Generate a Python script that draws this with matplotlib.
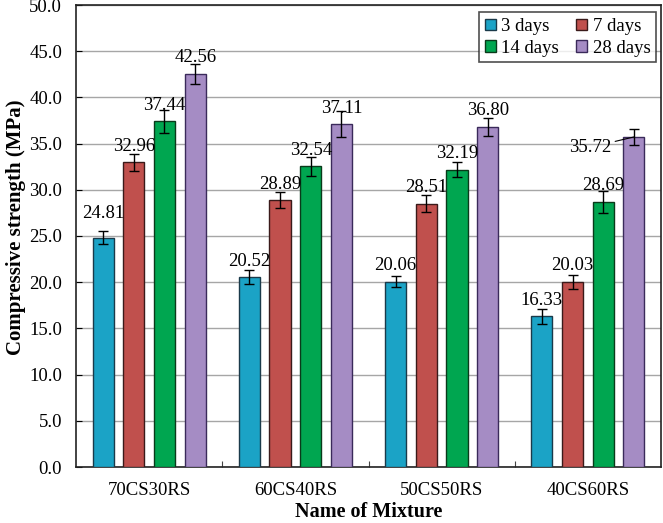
import matplotlib
matplotlib.use("Agg")
import matplotlib.pyplot as plt
import numpy as np
from matplotlib.ticker import FixedLocator, FormatStrFormatter

plt.rcParams['font.family'] = ['Liberation Serif', 'DejaVu Serif']

categories = ["70CS30RS", "60CS40RS", "50CS50RS", "40CS60RS"]
series_names = ["3 days", "7 days", "14 days", "28 days"]
values = {
    "3 days": [24.81, 20.52, 20.06, 16.33],
    "7 days": [32.96, 28.89, 28.51, 20.03],
    "14 days": [37.44, 32.54, 32.19, 28.69],
    "28 days": [42.56, 37.11, 36.80, 35.72],
}
errors = {
    "3 days": [0.7, 0.75, 0.6, 0.8],
    "7 days": [0.9, 0.9, 0.9, 0.75],
    "14 days": [1.25, 1.05, 0.8, 1.2],
    "28 days": [1.1, 1.4, 0.95, 0.85],
}
colors = ["#1ba3c6", "#c0504d", "#00a650", "#a58cc4"]
edges = ["#1a3a4a", "#3a1a1a", "#0a3a1a", "#3a2a5a"]

fig = plt.figure(figsize=(6.63, 5.23), dpi=100)
ax = fig.add_axes([76/663, 56/523, 585/663, 462/523])

fs = 13.5
x = np.arange(len(categories))
offsets = [-0.315, -0.105, 0.105, 0.315]
width = 0.144
handles = []
for i, name in enumerate(series_names):
    b = ax.bar(x + offsets[i], values[name], width, color=colors[i],
               edgecolor=edges[i], linewidth=1.0, zorder=3, label=name)
    ax.errorbar(x + offsets[i], values[name], yerr=errors[name], fmt='none',
                ecolor='black', elinewidth=1.0, capsize=3.5, capthick=1.0, zorder=4)
    handles.append(b)
    for j, v in enumerate(values[name]):
        txt = f"{v:.2f}"
        if name == "3 days" and j == 0:
            ax.annotate(txt, (x[j] + offsets[i], v), xytext=(0, 17.5),
                        textcoords='offset points', ha='center', va='center',
                        fontsize=fs, zorder=5)
        elif name == "28 days" and j == 3:
            ax.annotate(txt, (x[j] + offsets[i], v), xytext=(-16.5, -7.5),
                        textcoords='offset points', ha='right', va='center',
                        fontsize=fs, zorder=5,
                        arrowprops=dict(arrowstyle='-', color='black', lw=0.8,
                                        shrinkA=1, shrinkB=0))
        else:
            ax.annotate(txt, (x[j] + offsets[i], v), xytext=(0, 11.5),
                        textcoords='offset points', ha='center', va='center',
                        fontsize=fs, zorder=5)

ax.set_xlim(-0.5, 3.5)
ax.set_ylim(0, 50)
ax.yaxis.set_major_locator(FixedLocator(np.arange(0, 50.1, 5)))
ax.yaxis.set_major_formatter(FormatStrFormatter('%.1f'))
ax.set_xticks(x)
ax.set_xticklabels(categories)
ax.xaxis.set_minor_locator(FixedLocator([0.5, 1.5, 2.5]))
ax.tick_params(axis='x', which='major', length=0, pad=11, labelsize=fs)
ax.tick_params(axis='x', which='minor', length=4, direction='in', width=0.8, color='#444444')
ax.tick_params(axis='y', which='major', length=4, direction='in', width=0.8,
               labelsize=fs, pad=10)
ax.grid(axis='y', color='#a6a6a6', linewidth=1.0, zorder=0)
ax.set_axisbelow(True)
for s in ax.spines.values():
    s.set_linewidth(1.2)
    s.set_color('#222222')

ax.set_ylabel("Compressive strength (MPa)", fontsize=15, fontweight='bold', va='center')
ax.yaxis.set_label_coords(-60/585, 0.52)
ax.set_xlabel("Name of Mixture", fontsize=14.5, fontweight='bold', va='center')
ax.xaxis.set_label_coords(0.5, -45/462)

order = [0, 2, 1, 3]
leg = ax.legend([handles[k] for k in order], [series_names[k] for k in order],
                ncol=2, loc='upper right', bbox_to_anchor=(0.9985, 0.992),
                fontsize=fs, frameon=True, fancybox=False, handlelength=0.6,
                handleheight=0.6, handletextpad=0.3, columnspacing=0.9,
                borderpad=0.3, labelspacing=0.25, borderaxespad=0.2)
leg.get_frame().set_edgecolor('#222222')
leg.get_frame().set_linewidth(1.2)
leg.set_zorder(10)

fig.savefig("out.png", dpi=100)
